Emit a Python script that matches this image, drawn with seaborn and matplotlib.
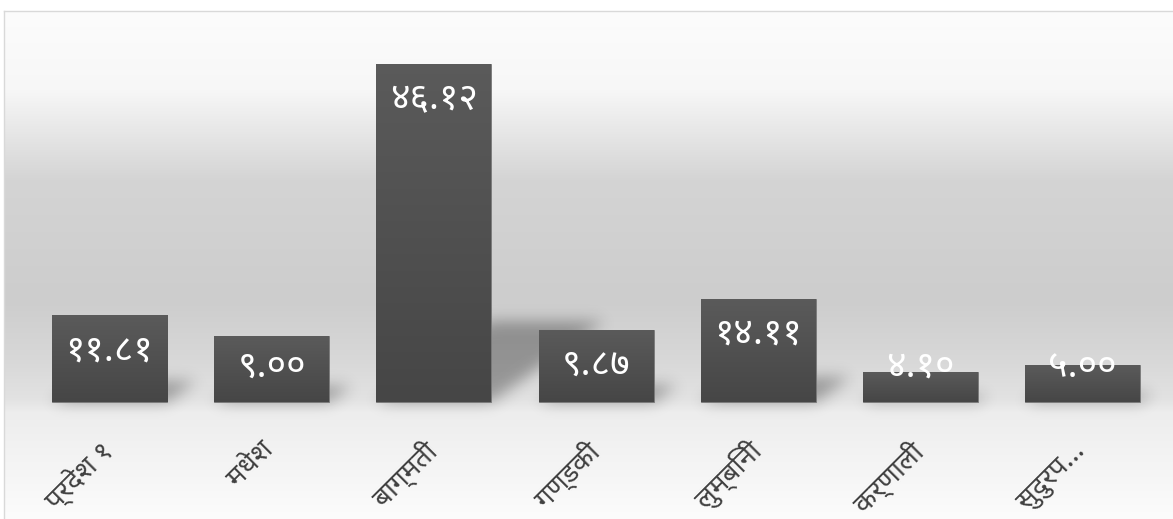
import numpy as np
import matplotlib
matplotlib.use("Agg")
import matplotlib.pyplot as plt
import seaborn as sns

# Province-wise shares (percent)
regions = ["प्रदेश १", "मधेश", "बाग्मती", "गण्डकी", "लुम्बिनी", "कर्णाली", "सुदुरप..."]
values = [11.81, 9.00, 46.12, 9.87, 14.11, 4.10, 5.00]

DEVA_DIGITS = str.maketrans("0123456789", "०१२३४५६७८९")


def deva(v):
    return f"{v:.2f}".translate(DEVA_DIGITS)


sns.set_theme(style="white")
plt.rcParams["font.family"] = ["Noto Sans Devanagari", "Hind", "Mukta", "Poppins", "DejaVu Sans"]

W_PX, H_PX = 1173, 519
fig = plt.figure(figsize=(W_PX / 100, H_PX / 100), dpi=100)
fig.patch.set_facecolor("white")

# plot panel: left edge at x=4px, top edge at y=11px, runs off right/bottom
ax_left, ax_top = 4, 11
ax_w, ax_h = W_PX - ax_left, H_PX - ax_top
ax = fig.add_axes([ax_left / W_PX, 0, ax_w / W_PX, ax_h / H_PX])

# axis geometry (pixels): category pitch, first centre, baseline, pixels per unit
pitch = 162.17
first_c = 109.5
base_y = 402
ppu = 7.329
xl = (ax_left - first_c) / pitch
xr = (W_PX - first_c) / pitch
yb = -(H_PX - base_y) / ppu
yt = (base_y - ax_top) / ppu

# background gradient: light top, grey band, lighter floor below the baseline
rows = np.arange(ax_h) + ax_top
stops_y = [11, 90, 180, 300, 360, 398, 412, 519]
stops_v = [252, 247, 212, 205, 216, 226, 237, 252]
g = np.interp(rows, stops_y, stops_v) / 255.0
bg = np.repeat(g[:, None], 8, axis=1)
bg_rgb = np.dstack([bg, bg, bg])
ax.imshow(bg_rgb, extent=(xl, xr, yb, yt), aspect="auto", zorder=0, interpolation="bilinear")

# bars
bar_w = 115 / pitch
sns.barplot(x=regions, y=values, ax=ax, width=bar_w, color="#4e4e4e", saturation=1,
            edgecolor="#7a7a7a", linewidth=0.6, zorder=3)

# soft cast shadows behind each bar
xs = xl + (np.arange(ax_w) + 0.5) / ax_w * (xr - xl)
ys = yt - (np.arange(ax_h) + 0.5) / ax_h * (yt - yb)
XX, YY = np.meshgrid(xs, ys)
mask = np.zeros_like(XX)
s_h = 0.24
for i, v in enumerate(values):
    sh = s_h * v
    dx = v * ppu * 0.335 / pitch
    t = np.clip(YY / sh, 0, 1)
    x0 = i - bar_w / 2 + dx * t
    x1 = i + bar_w / 2 + dx * t
    inside = (YY >= 0) & (YY <= sh) & (XX >= x0) & (XX <= x1)
    mask = np.maximum(mask, inside.astype(float))

sigma = 7.5
k = np.exp(-0.5 * (np.arange(-24, 25) / sigma) ** 2)
k /= k.sum()
mask = np.apply_along_axis(lambda r: np.convolve(r, k, mode="same"), 1, mask)
mask = np.apply_along_axis(lambda c: np.convolve(c, k, mode="same"), 0, mask)
shadow = np.zeros((ax_h, ax_w, 4))
shadow[..., 3] = mask * 0.32
ax.imshow(shadow, extent=(xl, xr, yb, yt), aspect="auto", zorder=2, interpolation="bilinear")

# vertical shading inside each bar
grad = np.linspace(0.355, 0.275, 64)[:, None]
grad_rgb = np.dstack([grad, grad, grad])
for p in ax.patches:
    x, y0 = p.get_x(), p.get_y()
    w, h = p.get_width(), p.get_height()
    im = ax.imshow(grad_rgb, extent=(x, x + w, y0, y0 + h), aspect="auto", zorder=3.5,
                   interpolation="bilinear")
    im.set_clip_path(p)

# value labels inside the bar top (clamped for short bars)
lab_off = 35 / ppu
for i, v in enumerate(values):
    ax.text(i, max(v - lab_off, lab_off), deva(v), ha="center", va="center",
            color="white", fontsize=27, zorder=5)

# slanted category labels under the baseline
for i, name in enumerate(regions):
    ax.text(i - 1 / pitch, -45 / ppu, name, ha="right", va="center", rotation=45,
            rotation_mode="anchor", color="#404040", fontsize=20, zorder=5)

ax.set_xlim(xl, xr)
ax.set_ylim(yb, yt)
ax.set_xticks([])
ax.set_yticks([])
ax.set_xlabel("")
ax.set_ylabel("")
for side in ["right", "bottom"]:
    ax.spines[side].set_visible(False)
for side in ["left", "top"]:
    ax.spines[side].set_color("#d9d9d9")
    ax.spines[side].set_linewidth(1)

fig.savefig("out.png", dpi=100)
